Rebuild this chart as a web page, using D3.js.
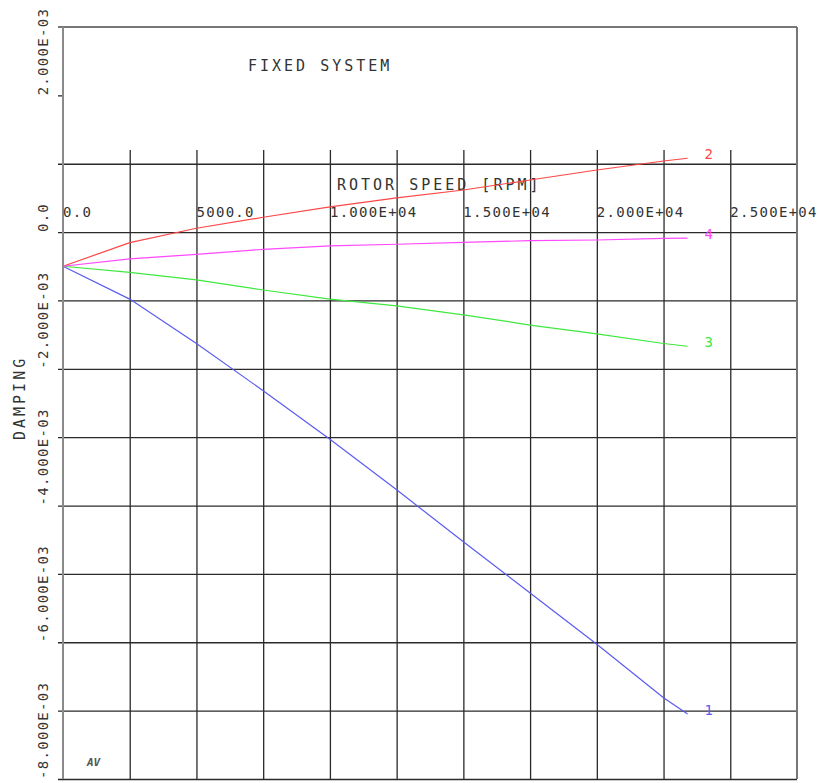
<!DOCTYPE html>
<html>
<head>
<meta charset="utf-8">
<script src="https://cdn.jsdelivr.net/npm/d3@7"></script>
<style>
  html, body { margin: 0; padding: 0; background: #fff; }
  svg { display: block; }
  text { font-family: "DejaVu Sans Mono", "Liberation Mono", monospace; fill: #333; }
</style>
</head>
<body>
<svg id="chart" width="818" height="783"></svg>
<script>
// Rotor speed stations (RPM)
const rpm = [0, 2500, 5000, 7500, 10000, 12500, 15000, 17500, 20000, 22500, 23400];

// Damping of each whirl mode versus speed
const mode1 = [-0.50e-3, -0.98e-3, -1.63e-3, -2.32e-3, -3.03e-3, -3.77e-3, -4.53e-3, -5.28e-3, -6.03e-3, -6.81e-3, -7.05e-3];
const mode2 = [-0.50e-3, -0.155e-3, 0.056e-3, 0.217e-3, 0.37e-3, 0.50e-3, 0.616e-3, 0.762e-3, 0.908e-3, 1.04e-3, 1.08e-3];
const mode3 = [-0.50e-3, -0.59e-3, -0.70e-3, -0.847e-3, -0.98e-3, -1.08e-3, -1.21e-3, -1.36e-3, -1.49e-3, -1.63e-3, -1.67e-3];
const mode4 = [-0.50e-3, -0.393e-3, -0.325e-3, -0.252e-3, -0.203e-3, -0.178e-3, -0.149e-3, -0.126e-3, -0.116e-3, -0.091e-3, -0.088e-3];

const modeNames = ["1", "2", "3", "4"];
const modeColors = ["#5a5cf0", "#ff4646", "#3ee83e", "#ff48ff"];

// Axis ticks and labels
const xGridTicks = [2500, 5000, 7500, 10000, 12500, 15000, 17500, 20000, 22500, 25000];
const xLabelTicks = [0, 5000, 10000, 15000, 20000, 25000];
const xLabels = ["0.0", "5000.0", "1.000E+04", "1.500E+04", "2.000E+04", "2.500E+04"];
const yGridTicks = [-8e-3, -7e-3, -6e-3, -5e-3, -4e-3, -3e-3, -2e-3, -1e-3, 0, 1e-3];
const yLabelTicks = [2e-3, 0, -2e-3, -4e-3, -6e-3, -8e-3];
const yLabels = ["2.000E-03", "0.0", "-2.000E-03", "-4.000E-03", "-6.000E-03", "-8.000E-03"];

const svg = d3.select("#chart");

// Plot frame
const plotLeft = 63, plotRight = 797, plotTop = 27, plotBottom = 779;
const x = d3.scaleLinear().domain([0, 27500]).range([plotLeft, plotRight]);
const y = d3.scaleLinear().domain([-8e-3, 3e-3]).range([plotBottom, plotTop]);
const gridTopValue = 1.2e-3;   // vertical grid starts just above the 1E-03 line

const gridStroke = "#2a2a2a";

// Vertical grid lines
svg.append("g")
  .attr("transform", `translate(0,${plotBottom})`)
  .call(d3.axisTop(x).tickValues(xGridTicks).tickSize(plotBottom - y(gridTopValue)).tickFormat(""))
  .call(g => g.select(".domain").remove())
  .call(g => g.selectAll("line").attr("stroke", gridStroke).attr("stroke-width", 1.3));

// Horizontal grid lines (with the short tick stubs left of the axis)
svg.append("g")
  .attr("transform", `translate(${plotLeft - 5},0)`)
  .call(d3.axisRight(y).tickValues(yGridTicks).tickSize(plotRight - plotLeft + 5).tickFormat(""))
  .call(g => g.select(".domain").remove())
  .call(g => g.selectAll("line").attr("stroke", gridStroke).attr("stroke-width", 1.3));

// Short stub at 2E-03 only
svg.append("g")
  .attr("transform", `translate(${plotLeft},0)`)
  .call(d3.axisLeft(y).tickValues([2e-3]).tickSize(5).tickFormat(""))
  .call(g => g.select(".domain").remove())
  .call(g => g.selectAll("line").attr("stroke", gridStroke).attr("stroke-width", 1.3));

// Frame: top border, left axis, right border
svg.append("line")
  .attr("x1", plotLeft - 5).attr("x2", plotRight).attr("y1", y(3e-3)).attr("y2", y(3e-3))
  .attr("stroke", "#777").attr("stroke-width", 2);
svg.append("line")
  .attr("x1", plotLeft).attr("x2", plotLeft).attr("y1", plotTop).attr("y2", plotBottom)
  .attr("stroke", "#8a8a8a").attr("stroke-width", 2);
svg.append("line")
  .attr("x1", plotRight).attr("x2", plotRight).attr("y1", plotTop).attr("y2", plotBottom)
  .attr("stroke", "#777").attr("stroke-width", 2);

// X tick labels, left-aligned on their grid lines
svg.append("g").selectAll("text")
  .data(xLabelTicks)
  .join("text")
  .attr("x", d => x(d))
  .attr("y", 217)
  .attr("font-size", 14)
  .attr("letter-spacing", 1.3)
  .text((d, i) => xLabels[i]);

// Y tick labels, rotated, starting at the tick and reading upward
svg.append("g").selectAll("text")
  .data(yLabelTicks)
  .join("text")
  .attr("transform", d => `translate(48,${y(d)}) rotate(-90)`)
  .attr("font-size", 14)
  .attr("letter-spacing", 1.3)
  .text((d, i) => yLabels[i]);

// Titles
svg.append("text")
  .attr("x", 248).attr("y", 71)
  .attr("font-size", 15).attr("letter-spacing", 3)
  .text("FIXED SYSTEM");
svg.append("text")
  .attr("x", 337).attr("y", 190)
  .attr("font-size", 15).attr("letter-spacing", 3)
  .text("ROTOR SPEED [RPM]");
svg.append("text")
  .attr("transform", "translate(25,440) rotate(-90)")
  .attr("font-size", 15).attr("letter-spacing", 3)
  .text("DAMPING");

// Damping curves
const series = [mode1, mode2, mode3, mode4];
const line = d3.line().x((d, i) => x(rpm[i])).y(d => y(d));

svg.append("g").selectAll("path")
  .data(series)
  .join("path")
  .attr("d", d => line(d))
  .attr("fill", "none")
  .attr("stroke", (d, i) => modeColors[i])
  .attr("stroke-width", 1.2);

// Mode number at the end of each curve
svg.append("g").selectAll("text")
  .data(series)
  .join("text")
  .attr("x", x(rpm[rpm.length - 1]) + 17)
  .attr("y", d => y(d[d.length - 1]) + 1)
  .attr("font-size", 14)
  .style("fill", (d, i) => modeColors[i])
  .text((d, i) => modeNames[i]);

// Operator initials
svg.append("text")
  .attr("x", 87).attr("y", 766)
  .attr("font-family", "DejaVu Sans")
  .attr("font-size", 11)
  .attr("font-style", "italic")
  .attr("font-weight", "bold")
  .style("fill", "#555")
  .text("AV");
</script>
</body>
</html>
